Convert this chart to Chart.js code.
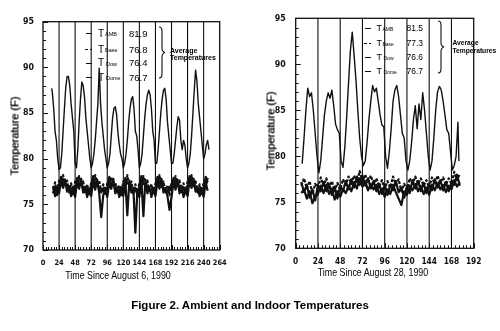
<!DOCTYPE html>
<html><head><meta charset="utf-8">
<script src="https://cdn.jsdelivr.net/npm/chart.js@4"></script>
<style>
html,body{margin:0;padding:0;background:#fff;}
body{width:500px;height:331px;overflow:hidden;position:relative;font-family:'Liberation Sans',Arial,sans-serif;color:#000;}
canvas{position:absolute;top:0;}
#cL{left:0;} #cR{left:250px;}
.t{position:absolute;white-space:nowrap;line-height:1;}
.c{transform:translate(-50%,-50%);}
.yt{font-size:11px;text-shadow:0 0 0.4px #000;}
.ln{position:absolute;height:0;border-top:1.3px solid #111;}
</style></head><body>
<canvas id="cL" width="250" height="290" style="width:250px;height:290px"></canvas>
<canvas id="cR" width="250" height="290" style="width:250px;height:290px"></canvas>

<!-- axis titles -->
<div class="t yt" style="left:15px;top:135.5px;transform:translate(-50%,-50%) rotate(-90deg);">Temperature (F)</div>
<div class="t yt" style="left:270.5px;top:131px;transform:translate(-50%,-50%) rotate(-90deg);">Temperature (F)</div>
<div class="t" style="left:117.5px;top:275px;font-size:10.8px;transform:translate(-50%,-50%) scaleX(0.82);">Time Since August 6, 1990</div>
<div class="t" style="left:373px;top:272px;font-size:10.8px;transform:translate(-50%,-50%) scaleX(0.82);">Time Since August 28, 1990</div>

<!-- left legend -->
<div class="ln" style="left:86px;top:33px;width:6px"></div>
<div class="t" style="left:98px;top:28.5px;font-size:10px">T</div><div class="t" style="left:105px;top:32px;font-size:5.5px">AMB</div><div class="t" style="left:129px;top:28.5px;font-size:9.5px">81.9</div>
<div class="ln" style="left:85px;top:49px;width:2.5px"></div><div class="ln" style="left:89.5px;top:49px;width:2.5px"></div>
<div class="t" style="left:98px;top:44.5px;font-size:10px">T</div><div class="t" style="left:105px;top:48px;font-size:5.5px">Base</div><div class="t" style="left:129px;top:44.5px;font-size:9.5px">76.8</div>
<div class="ln" style="left:86px;top:62.5px;width:6px"></div>
<div class="t" style="left:98px;top:58px;font-size:10px">T</div><div class="t" style="left:106px;top:61.5px;font-size:5.5px">Dow</div><div class="t" style="left:129px;top:58px;font-size:9.5px">76.4</div>
<div class="ln" style="left:86px;top:77px;width:6px"></div>
<div class="t" style="left:98px;top:72.5px;font-size:10px">T</div><div class="t" style="left:106px;top:76px;font-size:5.5px">Dome</div><div class="t" style="left:129px;top:72.5px;font-size:9.5px">76.7</div>
<svg style="position:absolute;left:158px;top:26px" width="10" height="54"><path d="M1,1 C4,1 4,3 4,7 L4,22 C4,25 5,26 7,26.5 C5,27 4,28 4,31 L4,46 C4,50 4,52 1,52" fill="none" stroke="#111" stroke-width="1.1"/></svg>
<div class="t" style="left:170px;top:46.5px;font-size:7px;font-weight:bold">Average</div>
<div class="t" style="left:170px;top:54px;font-size:7px;font-weight:bold">Temperatures</div>

<!-- right legend -->
<div class="ln" style="left:365px;top:28px;width:6px"></div>
<div class="t" style="left:376.5px;top:24px;font-size:9px">T</div><div class="t" style="left:382.5px;top:27px;font-size:5px">AMB</div><div class="t" style="left:406.5px;top:24px;font-size:8.5px">81.5</div>
<div class="ln" style="left:364px;top:42.5px;width:2.5px"></div><div class="ln" style="left:368.5px;top:42.5px;width:2.5px"></div>
<div class="t" style="left:376.5px;top:38.5px;font-size:9px">T</div><div class="t" style="left:382.5px;top:41.5px;font-size:5px">Base</div><div class="t" style="left:406.5px;top:38.5px;font-size:8.5px">77.3</div>
<div class="ln" style="left:365px;top:56.5px;width:6px"></div>
<div class="t" style="left:376.5px;top:52.5px;font-size:9px">T</div><div class="t" style="left:383.5px;top:55.5px;font-size:5px">Dow</div><div class="t" style="left:406.5px;top:52.5px;font-size:8.5px">76.6</div>
<div class="ln" style="left:365px;top:70.5px;width:6px"></div>
<div class="t" style="left:376.5px;top:66.5px;font-size:9px">T</div><div class="t" style="left:383.5px;top:69.5px;font-size:5px">Dome</div><div class="t" style="left:406.5px;top:66.5px;font-size:8.5px">76.7</div>
<svg style="position:absolute;left:437px;top:20px" width="10" height="55"><path d="M1,1 C4,1 4,3 4,7 L4,22.5 C4,25.5 5,26.5 7,27 C5,27.5 4,28.5 4,31.5 L4,47 C4,51 4,53 1,53" fill="none" stroke="#111" stroke-width="1.1"/></svg>
<div class="t" style="left:452.5px;top:40px;font-size:6.7px;font-weight:bold">Average</div>
<div class="t" style="left:452.5px;top:47.5px;font-size:6.7px;font-weight:bold">Temperatures</div>

<div class="t c" style="left:250px;top:306px;font-size:11.5px;font-weight:bold">Figure 2. Ambient and Indoor Temperatures</div>

<script>
// ---------- DATA (hours since start, temperatures in F) ----------
const xTicksL = [0,24,48,72,96,120,144,168,192,216,240,264];
const xTicksR = [0,24,48,72,96,120,144,168,192];
const yTicks = [70,75,80,85,90,95];

const dayLinesL = [24,48,72,96,120,144,168,192,216,240];
const dayLinesR = [24,48,72,96,120,144,168];

// Left panel: Aug 6, 1990
const ambHoursL = [13,14,16,18,20,22,24,26,28,30,32,34,36,38,40,42,44,46,48,50,52,54,56,58,60,62,64,66,68,70,72,74,76,78,80,82,84,86,88,90,92,94,96,98,100,102,104,106,108,110,112,114,116,118,120,122,124,126,128,130,132,134,136,138,140,142,144,146,148,150,152,154,156,158,160,162,164,166,168,170,172,174,176,178,180,182,184,186,188,190,192,194,196,198,200,202,204,206,208,210,212,214,216,218,220,222,224,226,228,230,232,234,236,238,240,242,244,246,248];
const ambL = [87.7,87.2,85.5,83,82,80,78.8, 79,80.5,83,85.5,87.8,89,89,88,86,84.5,83,79.5, 79,81,84,86.5,88.4,88,86.8,84.5,83,81.5,80,79, 79.5,80.5,82,84,86,89.9,86,84,82.5,81,80,79, 79.5,80.5,82.5,84.5,85.5,85.7,84.8,82.8,81.5,80.5,80,79, 79.5,80.5,82,84,85.5,86.5,86.8,85.5,83,82.5,81,79, 79.5,80.5,82.5,84.5,86,87,87.5,87,85.5,83,82,79.5, 79.5,81,83,85,86.5,87.5,87.7,86.5,84,82.5,81,79.5, 79.5,80.5,82,83.5,84.6,84.2,82,81,82,81.5,80,79, 79.5,80.5,82.5,85,87.5,89.7,88.5,86,84.5,83,81.5,80, 80.5,81.5,82,81];

const inHoursL = [15,18,21,24,27,30,33,36,39,42,45,48,51,54,57,60,63,66,69,72,75,78,81,84,87,90,93,96,99,102,105,108,111,114,117,120,123,126,129,132,135,138,141,144,147,150,153,156,159,162,165,168,171,174,177,180,183,186,189,192,195,198,201,204,207,210,213,216,219,222,225,228,231,234,237,240,243,246];
const baseL = [76.2,77.4,76.3,77.6,77.0,78.2,76.9,77.6,76.3,77.3,76.1,77.5,76.8,78.1,77.0,77.5,76.2,77.2,76.1,77.4,76.9,78.2,77.1,77.6,76.3,77.2,76.0,77.3,76.9,78.0,77.0,77.4,76.3,77.1,76.0,77.5,76.8,78.2,76.9,77.5,76.2,77.2,75.9,77.4,76.9,78.1,77.0,77.6,76.3,77.2,76.1,77.3,77.0,78.2,76.9,77.5,76.3,77.1,76.0,77.4,76.9,78.1,77.0,77.6,76.2,77.3,76.1,77.5,76.9,78.2,77.0,77.5,76.3,77.2,76.0,77.4,76.8,77.9];
const dowL = [77.0,75.9,76.8,76.2,77.6,76.8,77.7,76.4,77.0,75.9,76.7,75.8,77.5,76.7,77.8,76.3,76.9,75.8,76.7,75.9,77.6,76.6,77.7,76.2,73.6,76.0,76.6,75.8,77.4,76.7,77.8,76.2,76.9,75.8,76.6,75.9,77.5,73.8,77.6,76.3,76.8,71.9,76.5,75.8,77.6,73.7,77.7,76.2,76.9,75.8,76.7,75.9,77.5,76.7,77.8,76.3,76.8,75.9,74.4,75.8,77.5,76.6,77.7,76.2,77.0,75.8,76.6,75.9,77.6,76.8,77.8,76.4,76.9,75.9,76.6,75.8,77.4,76.5];
const domeL = [76.6,76.9,76.0,77.0,78.0,77.3,77.2,76.8,76.6,76.4,76.9,76.6,77.9,77.2,77.3,76.7,76.5,76.7,76.2,77.0,78.1,77.3,77.0,76.9,76.4,76.5,76.8,76.6,78.0,77.2,77.2,76.7,76.5,76.4,76.9,76.5,77.9,77.3,77.3,76.8,76.4,76.6,76.2,76.9,78.1,77.2,77.2,76.7,76.5,76.6,76.8,76.5,78.0,77.3,77.3,76.8,76.5,76.4,76.9,76.6,77.9,77.2,77.2,76.7,76.5,76.7,76.2,77.0,78.1,77.3,77.2,76.8,76.4,76.5,76.8,76.6,78.0,77.4];

// Right panel: Aug 28, 1990
const ambHoursR = [7,9,11,13,15,17,19,21,23,25,27,29,31,33,35,37,39,41,43,45,47,49,51,53,55,57,59,61,63,65,67,69,71,73,75,77,79,81,83,85,87,89,91,93,95,97,99,101,103,105,107,109,111,113,115,117,119,121,123,125,127,129,131,133,135,137,139,141,143,145,147,149,151,153,155,157,159,161,163,165,167,169,171,173,175,176];
const ambR = [79.2,82,85,87.4,86.5,86.9,85,82.5,80, 78.2,79.5,82,84.5,86,86.9,86.3,87.2,85.5,83.5,82.9,82.5,79.5, 78.8,81,84.3,88,91.5,93.5,91,88.3,85,82,80, 79,79.5,81.5,84,86,87.7,87,87.4,86,84.5,83.4,83.2,80, 78.7,80.5,83,86,87.2,87.7,86.5,84.5,82.5,82,79.5, 78.5,79.5,81.5,84,85.5,83,85.7,84,86.9,85,82.5,80, 78.5,79.5,82,85,87,87.6,87.2,86,84.5,82.9,82.5,80.5, 78.5,79,80,83.7,79.5];

const inHoursR = [6,9,12,15,18,21,24,27,30,33,36,39,42,45,48,51,54,57,60,63,66,69,72,75,78,81,84,87,90,93,96,99,102,105,108,111,114,117,120,123,126,129,132,135,138,141,144,147,150,153,156,159,162,165,168,171,174,177];
const baseR = [76.8,77.6,76.5,77.3,75.9,77.0,76.6,77.7,76.8,77.6,76.6,77.3,76.2,77.1,76.4,77.5,76.9,77.8,77.0,77.9,77.2,78.4,77.3,78.0,77.1,77.9,77.0,77.6,76.7,77.4,76.5,77.3,76.6,77.8,76.9,77.5,76.2,77.0,76.4,77.6,77.0,77.8,77.0,77.6,76.8,77.4,76.6,77.7,77.0,77.9,77.1,77.7,76.9,77.6,77.0,78.3,77.4,78.1];
const dowR = [76.0,76.4,75.4,76.2,74.9,75.6,75.9,76.8,76.0,76.9,75.9,76.5,75.3,76.2,75.6,76.4,76.0,76.8,76.2,77.2,76.5,77.6,76.7,77.3,76.3,77.0,76.4,76.9,75.9,76.5,75.6,76.4,75.9,76.9,76.1,75.4,74.7,76.2,75.8,76.8,76.3,77.0,76.2,76.8,75.9,76.6,75.8,76.9,76.3,77.1,76.4,76.9,76.1,76.8,76.4,77.4,76.7,77.2];
const domeR = [77.2,76.1,76.9,75.5,76.4,75.2,76.9,76.2,77.2,76.2,77.0,75.8,76.7,75.4,76.8,76.2,77.3,76.4,77.5,76.6,77.8,76.9,77.9,76.8,77.6,76.5,77.3,76.2,77.0,75.9,76.9,75.8,76.9,76.3,77.3,76.1,76.6,75.5,76.7,76.0,77.4,76.5,77.3,76.2,77.1,76.0,77.0,76.3,77.5,76.6,77.4,76.3,77.2,76.2,77.1,76.9,78.0,76.8];

// ---------- CHART ----------
const NARROW = "'Liberation Sans Narrow','Arial Narrow','DejaVu Sans Condensed','Liberation Sans',sans-serif";
const INK = '#111';

function pts(xs, ys){ return xs.map((x,i)=>({x:x, y:ys[i]})); }
function vlines(xs){ const o=[]; xs.forEach(x=>{ o.push({x:x,y:yTicks[0]},{x:x,y:yTicks[yTicks.length-1]},{x:x,y:null}); }); return o; }

const framePlugin = {
  id:'frame',
  afterDatasetsDraw(chart, args, opts){
    const {ctx, chartArea:a, scales:{x,y}} = chart;
    ctx.save();
    ctx.strokeStyle = INK; ctx.lineWidth = 1.3;
    ctx.strokeRect(a.left, a.top, a.right-a.left, a.bottom-a.top);
    ctx.lineWidth = 1;
    ctx.beginPath();
    for(let v=x.min; v<=x.max; v+=opts.minorX){
      const p = Math.round(x.getPixelForValue(v))+0.5;
      const len = (v%24===0)?5:3;
      ctx.moveTo(p, a.bottom); ctx.lineTo(p, a.bottom-len);
    }
    for(let v=y.min; v<=y.max; v+=1){
      const p = Math.round(y.getPixelForValue(v))+0.5;
      const len = (v%5===0)?5:3;
      ctx.moveTo(a.left, p); ctx.lineTo(a.left+len, p);
    }
    ctx.stroke();
    ctx.restore();
  }
};

function makeChart(id, c){
  return new Chart(document.getElementById(id), {
    type:'line',
    data:{datasets:[
      {data:vlines(c.days), borderColor:INK, borderWidth:1.1, spanGaps:false},
      {data:pts(c.inH, c.base), borderColor:INK, borderWidth:2.2, borderDash:[3,1.5]},
      {data:pts(c.inH, c.dow), borderColor:INK, borderWidth:2.2},
      {data:pts(c.inH, c.dome), borderColor:INK, borderWidth:2.2},
      {data:pts(c.ambH, c.amb), borderColor:INK, borderWidth:1.4}
    ]},
    options:{
      responsive:false, animation:false, events:[],
      layout:{padding:{left:0, right:c.padR, top:c.padT, bottom:0}},
      plugins:{legend:{display:false}, tooltip:{enabled:false}, frame:{minorX:4}},
      elements:{point:{radius:0}, line:{tension:0, borderJoinStyle:'round'}},
      scales:{
        x:{type:'linear', min:c.xt[0], max:c.xt[c.xt.length-1],
           afterFit:s=>{s.height=c.xH;},
           afterBuildTicks:s=>{s.ticks=c.xt.map(v=>({value:v}));},
           grid:{display:false, drawTicks:false}, border:{display:false},
           ticks:{padding:8.5, maxRotation:0, autoSkip:false, color:INK, font:{family:NARROW, size:c.xFont, weight:'bold'}}},
        y:{type:'linear', min:yTicks[0], max:yTicks[yTicks.length-1],
           afterFit:s=>{s.width=c.yW;},
           afterBuildTicks:s=>{s.ticks=yTicks.map(v=>({value:v}));},
           grid:{display:false, drawTicks:false}, border:{display:false},
           ticks:{padding:c.yPad, color:INK, font:{family:NARROW, size:8.8, weight:'bold'}}}
      }
    },
    plugins:[framePlugin]
  });
}

makeChart('cL', {days:dayLinesL, inH:inHoursL, base:baseL, dow:dowL, dome:domeL, ambH:ambHoursL, amb:ambL,
  xt:xTicksL, padR:30.3, padT:21.7, yW:43, xH:40, yPad:9, xFont:7.4});
makeChart('cR', {days:dayLinesR, inH:inHoursR, base:baseR, dow:dowR, dome:domeR, ambH:ambHoursR, amb:ambR,
  xt:xTicksR, padR:26.3, padT:18.3, yW:45.7, xH:41.7, yPad:10, xFont:8.3});
</script>
</body></html>
